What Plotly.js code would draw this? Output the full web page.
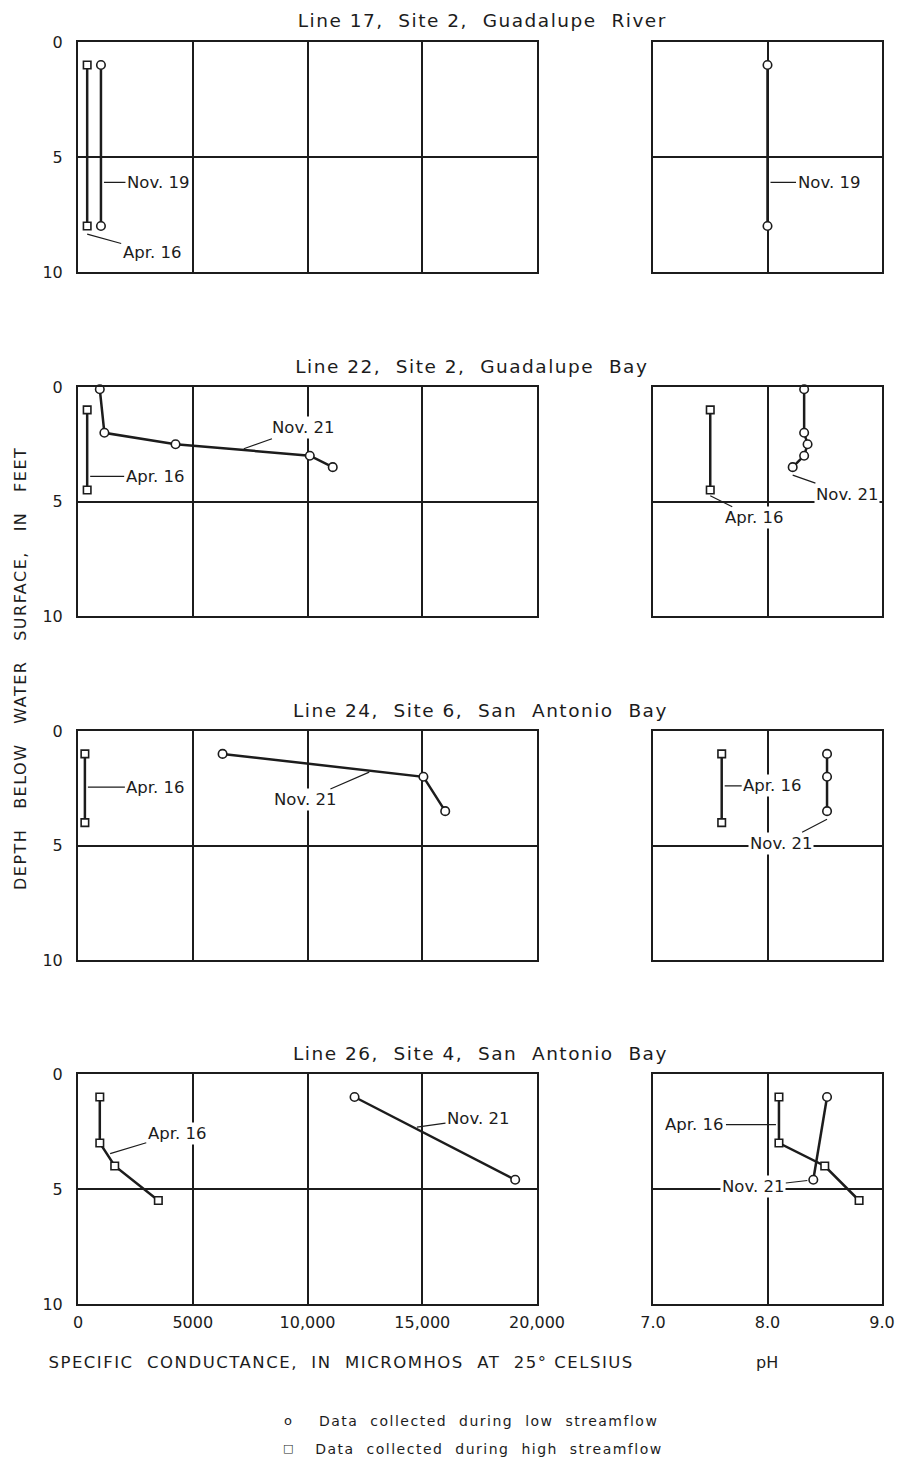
<!DOCTYPE html>
<html>
<head>
<meta charset="utf-8">
<script src="https://cdn.plot.ly/plotly-3.0.1.min.js"></script>
<style>
  html, body { margin: 0; padding: 0; background: #fff; }
  #chart { width: 898px; height: 1463px; }
</style>
</head>
<body>
<div id="chart"></div>
<script>
// ---------------- DATA ----------------
// Panel titles
const panelTitles = [
  "Line 17,\u00A0\u00A0Site 2,\u00A0\u00A0Guadalupe\u00A0\u00A0River",
  "Line 22,\u00A0\u00A0Site 2,\u00A0\u00A0Guadalupe\u00A0\u00A0Bay",
  "Line 24,\u00A0\u00A0Site 6,\u00A0\u00A0San\u00A0\u00A0Antonio\u00A0\u00A0Bay",
  "Line 26,\u00A0\u00A0Site 4,\u00A0\u00A0San\u00A0\u00A0Antonio\u00A0\u00A0Bay"
];

// Line 17, Site 2 — specific conductance (micromhos) vs depth (ft)
const l17AprDepth = [1, 8];
const l17AprCond = [400, 400];
const l17NovDepth = [1, 8];
const l17NovCond = [1000, 1000];
// Line 17 pH
const l17NovPhDepth = [1, 8];
const l17NovPh = [8.0, 8.0];

// Line 22, Site 2
const l22AprDepth = [1, 4.5];
const l22AprCond = [400, 400];
const l22NovDepth = [0.1, 2.0, 2.5, 3.0, 3.5];
const l22NovCond = [950, 1150, 4250, 10100, 11100];
const l22AprPh = [7.5, 7.5];
const l22NovPh = [8.32, 8.32, 8.35, 8.32, 8.22];

// Line 24, Site 6
const l24AprDepth = [1, 4];
const l24AprCond = [300, 300];
const l24NovDepth = [1, 2, 3.5];
const l24NovCond = [6300, 15050, 16000];
const l24AprPh = [7.6, 7.6];
const l24NovPh = [8.52, 8.52, 8.52];

// Line 26, Site 4
const l26AprDepth = [1, 3, 4, 5.5];
const l26AprCond = [950, 950, 1600, 3500];
const l26NovDepth = [1, 4.6];
const l26NovCond = [12050, 19050];
const l26AprPh = [8.1, 8.1, 8.5, 8.8];
const l26NovPh = [8.52, 8.4];

// Axis ticks
const condTickVals = [0, 5000, 10000, 15000, 20000];
const condTickText = ["0", "5000", "10,000", "15,000", "20,000"];
const phTickVals = [7, 8, 9];
const phTickText = ["7.0", "8.0", "9.0"];
const depthTickVals = [0, 5, 10];
const depthTickText = ["0", "5", "10"];

// Texts
const xTitleCond = "SPECIFIC\u00A0 CONDUCTANCE,\u00A0 IN\u00A0 MICROMHOS\u00A0 AT\u00A0 25\u00B0\u00A0CELSIUS";
const xTitlePh = "pH";
const yTitle = "DEPTH\u00A0\u00A0 BELOW\u00A0\u00A0 WATER\u00A0\u00A0 SURFACE,\u00A0\u00A0 IN\u00A0\u00A0 FEET";
const legendLow = "Data\u00A0 collected\u00A0 during\u00A0 low\u00A0 streamflow";
const legendHigh = "Data\u00A0 collected\u00A0 during\u00A0 high\u00A0 streamflow";

// ---------------- LAYOUT GEOMETRY ----------------
const W = 898, H = 1463;
const INK = "#1c1c1c";
const FONT = "DejaVu Sans, sans-serif";
const leftX = [78, 537], rightX = [653, 882];
const panelY = [[42, 272], [387, 616], [731, 960], [1074, 1304]];
const titleCenters = [482, 472, 480, 480];

const px = v => v / W;
const py = v => 1 - v / H;

const layout = {
  width: W, height: H, autosize: false,
  margin: {l: 0, r: 0, t: 0, b: 0, pad: 0},
  paper_bgcolor: "#fff", plot_bgcolor: "#fff",
  showlegend: false, hovermode: false, dragmode: false,
  font: {family: FONT, color: INK, size: 15},
  annotations: [], shapes: []
};
const spacedIdx = [];   // annotations drawn with lettering-style letter spacing

function axName(n, letter) { return letter + (n === 1 ? "" : n); }

panelY.forEach((yy, i) => {
  const nL = 2 * i + 1, nR = 2 * i + 2;
  const bottom = (i === panelY.length - 1);
  const ydom = [py(yy[1]), py(yy[0])];
  const common = {
    showline: true, mirror: true, linecolor: INK, linewidth: 2,
    showgrid: true, gridcolor: INK, gridwidth: 2,
    zeroline: false, ticks: "", fixedrange: true,
    tickfont: {family: FONT, size: 16, color: INK}
  };
  layout["xaxis" + (nL === 1 ? "" : nL)] = Object.assign({}, common, {
    domain: [px(leftX[0]), px(leftX[1])], range: [0, 20000],
    anchor: axName(nL, "y"), tickmode: "array", tickvals: condTickVals, ticktext: condTickText,
    showticklabels: bottom, ticklabelstandoff: 3
  });
  layout["xaxis" + nR] = Object.assign({}, common, {
    domain: [px(rightX[0]), px(rightX[1])], range: [7, 9],
    anchor: axName(nR, "y"), tickmode: "array", tickvals: phTickVals, ticktext: phTickText,
    showticklabels: bottom, ticklabelstandoff: 3
  });
  layout["yaxis" + (nL === 1 ? "" : nL)] = Object.assign({}, common, {
    domain: ydom, range: [10, 0], anchor: axName(nL, "x"),
    tickmode: "array", tickvals: depthTickVals, ticktext: depthTickText,
    showticklabels: true, ticklabelstandoff: 10
  });
  layout["yaxis" + nR] = Object.assign({}, common, {
    domain: ydom, range: [10, 0], anchor: axName(nR, "x"),
    tickmode: "array", tickvals: depthTickVals, ticktext: depthTickText,
    showticklabels: false
  });
  // panel title
  spacedIdx.push(layout.annotations.length);
  layout.annotations.push({
    xref: "paper", yref: "paper", x: px(titleCenters[i]), y: py(yy[0] - 21),
    xanchor: "center", yanchor: "middle", showarrow: false,
    text: panelTitles[i], font: {family: FONT, size: 18.5, color: INK}
  });
});

// ---------------- TRACES ----------------
function series(n, x, y, symbol) {
  return {
    type: "scatter", mode: "lines+markers",
    x: x, y: y,
    xaxis: axName(n, "x"), yaxis: axName(n, "y"),
    cliponaxis: false,
    line: {color: INK, width: 2.5},
    marker: {symbol: symbol, size: symbol === "square" ? 7.5 : 8.5, color: "#fff",
             line: {color: INK, width: 1.6}},
    hoverinfo: "skip"
  };
}
const SQ = "square", CI = "circle";
const data = [
  series(1, l17AprCond, l17AprDepth, SQ),
  series(1, l17NovCond, l17NovDepth, CI),
  series(2, l17NovPh, l17NovPhDepth, CI),
  series(3, l22AprCond, l22AprDepth, SQ),
  series(3, l22NovCond, l22NovDepth, CI),
  series(4, l22AprPh, l22AprDepth, SQ),
  series(4, l22NovPh, l22NovDepth, CI),
  series(5, l24AprCond, l24AprDepth, SQ),
  series(5, l24NovCond, l24NovDepth, CI),
  series(6, l24AprPh, l24AprDepth, SQ),
  series(6, l24NovPh, l24NovDepth, CI),
  series(7, l26AprCond, l26AprDepth, SQ),
  series(7, l26NovCond, l26NovDepth, CI),
  series(8, l26AprPh, l26AprDepth, SQ),
  series(8, l26NovPh, l26NovDepth, CI)
];

// ---------------- LEADER LABELS ----------------
function label(n, x, y, text, ax, ay, opts) {
  return Object.assign({
    xref: axName(n, "x"), yref: axName(n, "y"), x: x, y: y,
    text: text, showarrow: true, arrowhead: 0, arrowwidth: 1.2, arrowcolor: INK,
    ax: ax, ay: ay, standoff: 3, borderpad: 1, bgcolor: "#fff",
    font: {family: FONT, size: 16.5, color: INK}
  }, opts || {});
}
layout.annotations.push(
  label(1, 1000, 6.1, "Nov. 19", 57, 0),
  label(1, 400, 8.35, "Apr. 16", 65, 18, {standoff: 0}),
  label(2, 8.0, 6.1, "Nov. 19", 61, 0),
  label(3, 7100, 2.74, "Nov. 21", 62, -22),
  label(3, 400, 3.9, "Apr. 16", 68, 0),
  label(4, 7.5, 4.75, "Apr. 16", 44, 22, {standoff: 0}),
  label(4, 8.22, 3.85, "Nov. 21", 54, 19, {standoff: 0}),
  label(5, 300, 2.45, "Apr. 16", 71, 0),
  label(5, 12810, 1.744, "Nov. 21", -67, 29),
  label(6, 7.6, 2.4, "Apr. 16", 51, 0),
  label(6, 8.52, 3.85, "Nov. 21", -46, 24, {standoff: 0}),
  label(7, 1275, 3.5, "Apr. 16", 70, -21),
  label(7, 14640, 2.33, "Nov. 21", 64, -9),
  label(8, 8.1, 2.2, "Apr. 16", -84, 0),
  label(8, 8.4, 4.6, "Nov. 21", -60, 7, {standoff: 6})
);

// ---------------- AXIS TITLES & LEGEND ----------------
function spaced(a) { spacedIdx.push(layout.annotations.length); layout.annotations.push(a); }
spaced({xref: "paper", yref: "paper", x: px(341), y: py(1362), xanchor: "center", yanchor: "middle",
   showarrow: false, text: xTitleCond, font: {family: FONT, size: 16.5, color: INK}});
layout.annotations.push(
  {xref: "paper", yref: "paper", x: px(767), y: py(1362), xanchor: "center", yanchor: "middle",
   showarrow: false, text: xTitlePh, font: {family: FONT, size: 16, color: INK}},
  {xref: "paper", yref: "paper", x: px(288), y: py(1420), xanchor: "center", yanchor: "middle",
   showarrow: false, text: "o", font: {family: FONT, size: 13, color: INK}},
  {xref: "paper", yref: "paper", x: px(288), y: py(1448), xanchor: "center", yanchor: "middle",
   showarrow: false, text: "\u25A1", font: {family: FONT, size: 11, color: INK}}
);
spaced({xref: "paper", yref: "paper", x: px(20), y: py(668), xanchor: "center", yanchor: "middle",
   showarrow: false, textangle: -90, text: yTitle, font: {family: FONT, size: 16, color: INK}});
spaced({xref: "paper", yref: "paper", x: px(488), y: py(1421), xanchor: "center", yanchor: "middle",
   showarrow: false, text: legendLow, font: {family: FONT, size: 14, color: INK}});
spaced({xref: "paper", yref: "paper", x: px(489), y: py(1449), xanchor: "center", yanchor: "middle",
   showarrow: false, text: legendHigh, font: {family: FONT, size: 14, color: INK}});

// lettering-style spacing for the centred titles and captions
const st = document.createElement("style");
st.textContent = spacedIdx.map(i => `#chart g.annotation[data-index="${i}"] text`).join(",\n") +
  " { letter-spacing: 1.5px; }";
document.head.appendChild(st);

Plotly.newPlot("chart", data, layout, {displayModeBar: false, responsive: false});
</script>
</body>
</html>
